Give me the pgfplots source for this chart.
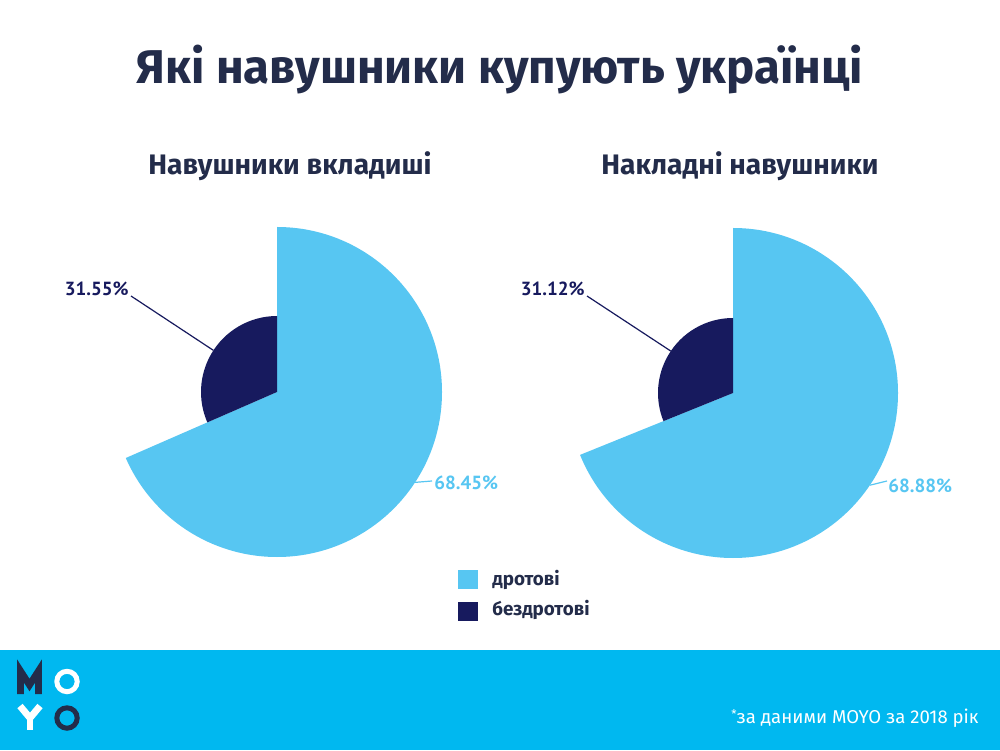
\documentclass[border=0pt]{standalone}
\usepackage{fontspec}
\setmainfont{Fira Sans}
\newfontfamily\pctfont{PT Sans}
\usepackage{pgfplots}
\pgfplotsset{compat=1.18}
\definecolor{wired}{HTML}{57C6F2}
\definecolor{wireless}{HTML}{171A5E}
\definecolor{titlec}{HTML}{232C4A}
\definecolor{footer}{HTML}{00B8F0}

% #1 cx, #2 cy, #3 wired share, #4 inner radius, #5 label x for dark leader, #6 label x for light leader
\newcommand\pie[6]{%
  \pgfplotsextra{%
    \pgfmathsetmacro\endang{90-3.6*#3}%
    \pgfmathsetmacro\midA{(90+\endang)/2}%
    \pgfmathsetmacro\midB{(90+\endang+360)/2}%
    \fill[wired] (axis cs:#1,#2) -- ++(0,82.5pt) arc[start angle=90,end angle=\endang,radius=82.5pt] -- cycle;
    \fill[wireless] (axis cs:#1,#2) -- ++(0,#4) arc[start angle=90,end angle=\endang+360,radius=#4] -- cycle;
    \draw[wireless, line width=0.6pt] (axis cs:#1,#2) ++(\midB:#4) -- (axis cs:#5,454);
    \draw[wired, line width=0.6pt] (axis cs:#1,#2) ++(\midA:82.5pt) -- (axis cs:#6,269);
  }%
}

\begin{document}
\begin{tikzpicture}
\begin{axis}[
  scale only axis, width=500pt, height=375pt,
  xmin=0, xmax=1000, ymin=0, ymax=750,
  hide axis, clip=false]
\addplot[fill=white, draw=none] coordinates {(0,0) (1000,0) (1000,750) (0,750)} -- cycle;
\addplot[fill=footer, draw=none] coordinates {(0,0) (1000,0) (1000,100) (0,100)} -- cycle;

% title and subtitles
\node[anchor=base, text=titlec, font=\fontsize{23.7}{28}\selectfont\bfseries] at (axis cs:500,666) {Які навушники купують українці};
\node[anchor=base, text=titlec, font=\fontsize{14.1}{17}\selectfont\bfseries] at (axis cs:290,575) {Навушники вкладиші};
\node[anchor=base, text=titlec, font=\fontsize{14.1}{17}\selectfont\bfseries] at (axis cs:740,575) {Накладні навушники};

% pies: wired share 68.45 / 31.55 and 68.88 / 31.12
\pie{277}{358}{68.45}{38pt}{131}{432}
\pie{733}{357}{68.88}{37.5pt}{587}{887}

\node[anchor=base east, inner sep=0pt, text=wireless, font=\fontsize{9.5}{11}\selectfont\pctfont\bfseries] at (axis cs:129,454) {31.55\%};
\node[anchor=base east, inner sep=0pt, text=wireless, font=\fontsize{9.5}{11}\selectfont\pctfont\bfseries] at (axis cs:585,454) {31.12\%};
\node[anchor=base west, inner sep=0pt, text=wired, font=\fontsize{9.5}{11}\selectfont\pctfont\bfseries] at (axis cs:434,261) {68.45\%};
\node[anchor=base west, inner sep=0pt, text=wired, font=\fontsize{9.5}{11}\selectfont\pctfont\bfseries] at (axis cs:888,258) {68.88\%};

% legend
\addplot[fill=wired, draw=none] coordinates {(458,161) (478,161) (478,180) (458,180)} -- cycle;
\addplot[fill=wireless, draw=none] coordinates {(458,129) (478,129) (478,148) (458,148)} -- cycle;
\node[anchor=base west, inner sep=0pt, text=titlec, font=\fontsize{9.4}{11}\selectfont\bfseries] at (axis cs:492,165) {дротові};
\node[anchor=base west, inner sep=0pt, text=titlec, font=\fontsize{9.4}{11}\selectfont\bfseries] at (axis cs:492,135) {бездротові};

% footer logo
\draw[titlec, line width=3.4pt, miter limit=10] (axis cs:20.5,56) -- (axis cs:20.5,79) -- (axis cs:29.5,65) -- (axis cs:38.5,79) -- (axis cs:38.5,56);
\draw[white, line width=2.5pt] (axis cs:67,68.5) circle[radius=5.1pt];
\draw[white, line width=3.4pt] (axis cs:20,44) -- (axis cs:30,32) -- (axis cs:40,44);
\draw[white, line width=3.4pt] (axis cs:30,32) -- (axis cs:30,20);
\draw[titlec, line width=2.5pt] (axis cs:67,32) circle[radius=5.1pt];
\node[anchor=base east, inner sep=0pt, text=white, font=\fontsize{9.3}{11}\selectfont] at (axis cs:979,27) {\raisebox{0.5ex}{\fontsize{6}{6}\selectfont*}за даними MOYO за 2018 рік};
\end{axis}
\end{tikzpicture}
\end{document}
